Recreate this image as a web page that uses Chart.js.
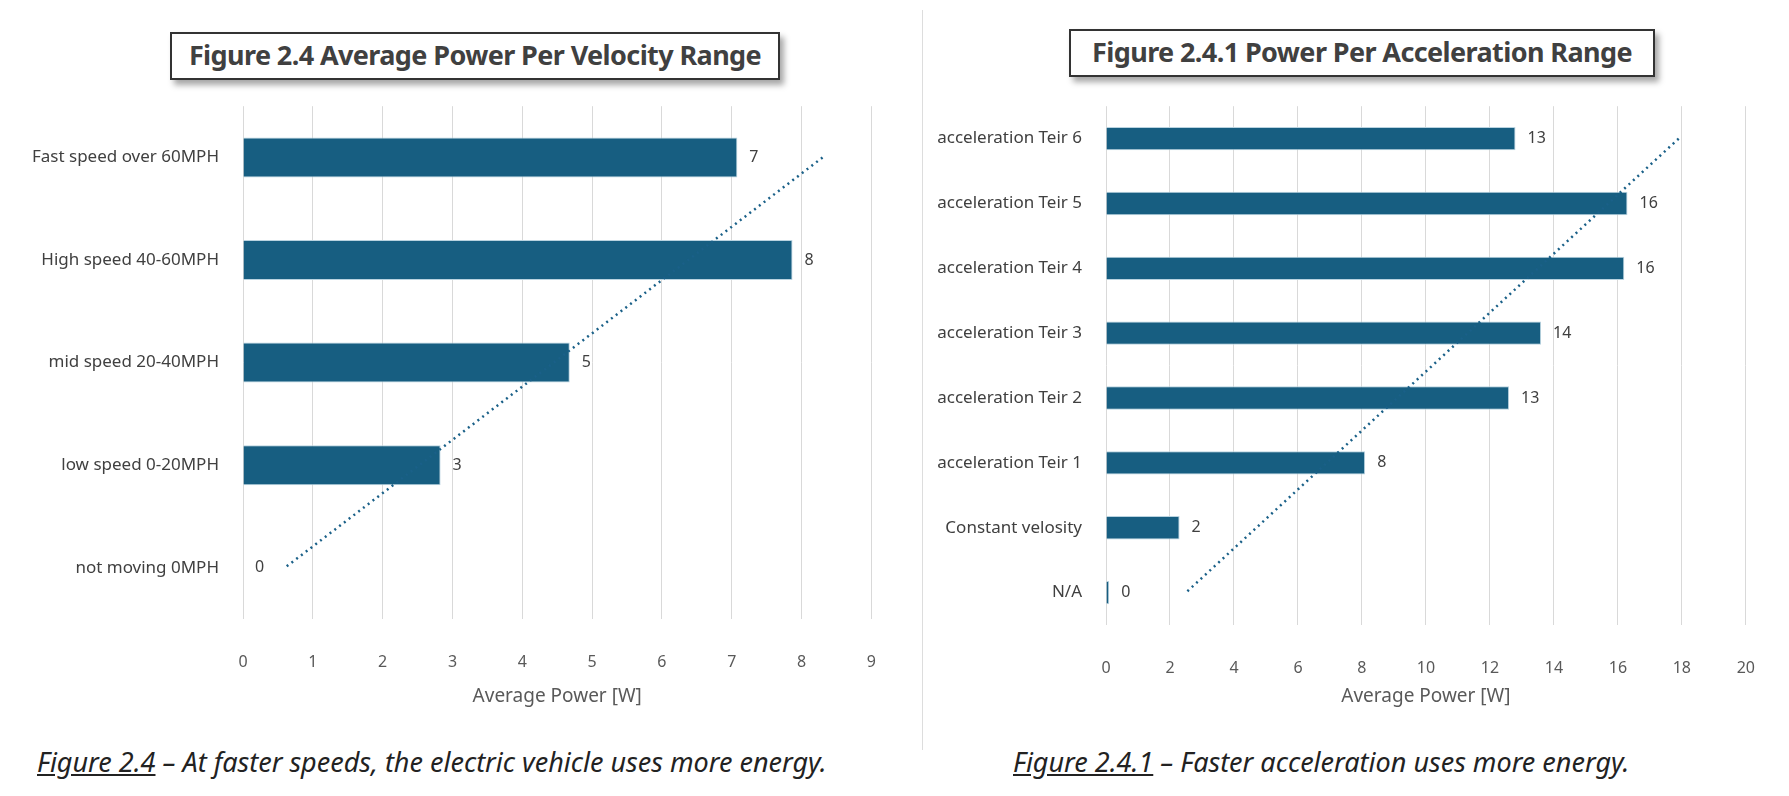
<!DOCTYPE html>
<html><head><meta charset="utf-8">
<script src="https://cdn.jsdelivr.net/npm/chart.js@4"></script>
<style>
body{margin:0;width:1789px;height:796px;background:#fff;position:relative;overflow:hidden;font-family:"Noto Sans",sans-serif}
.title{position:absolute;border:2px solid #333;background:#fff;box-shadow:4px 5px 6px rgba(0,0,0,.35);font-weight:bold;color:#404040;font-size:27px;text-align:center;line-height:42px;letter-spacing:-0.6px;white-space:nowrap}
.cap{position:absolute;font-style:italic;font-size:27px;color:#222;white-space:nowrap}
.cap u{text-decoration:underline}
canvas{position:absolute}
</style></head><body>
<div style="position:absolute;left:922px;top:10px;width:1px;height:740px;background:#ddd"></div>
<div class="title" style="left:170px;top:32px;width:606px;height:44px">Figure 2.4 Average Power Per Velocity Range</div>
<div class="title" style="left:1069px;top:29px;width:582px;height:44px">Figure 2.4.1 Power Per Acceleration Range</div>
<div style="position:absolute;left:0;top:80px;width:910px;height:630px"><canvas id="c1"></canvas></div>
<div style="position:absolute;left:930px;top:80px;width:859px;height:630px"><canvas id="c2"></canvas></div>
<div class="cap" style="left:37px;top:743px"><u>Figure 2.4</u> – At faster speeds, the electric vehicle uses more energy.</div>
<div class="cap" style="left:1013px;top:743px"><u>Figure 2.4.1</u> – Faster acceleration uses more energy.</div>
<script>
const velCats=["Fast speed over 60MPH","High speed 40-60MPH","mid speed 20-40MPH","low speed 0-20MPH","not moving 0MPH"];
const velPower=[7.08,7.87,4.68,2.83,0];
const velTrend=[8.3,null,null,null,0.6];
const accCats=["acceleration Teir 6","acceleration Teir 5","acceleration Teir 4","acceleration Teir 3","acceleration Teir 2","acceleration Teir 1","Constant velosity","N/A"];
const accPower=[12.8,16.3,16.2,13.6,12.6,8.1,2.3,0.1];
const accTrend=[17.9,null,null,null,null,null,null,2.5];

const labelPlugin={id:'vals',afterDatasetsDraw(ch){const ctx=ch.ctx;const m=ch.getDatasetMeta(0);ctx.save();ctx.font='16px "Noto Sans"';ctx.fillStyle='#404040';ctx.textBaseline='middle';
 m.data.forEach((b,i)=>{ctx.fillText(String(Math.round(ch.data.datasets[0].data[i])),b.x+12,b.y);});ctx.restore();}};
function make(id,cats,vals,trend,max,yw,barPct,padR,xh){
 new Chart(document.getElementById(id),{type:'bar',plugins:[labelPlugin],
 data:{labels:cats,datasets:[
  {type:'bar',data:vals,backgroundColor:'#175e81',borderColor:'#b9d3e0',borderWidth:1,barPercentage:barPct,categoryPercentage:1,order:2},
  {type:'line',data:trend,spanGaps:true,borderColor:'#1a6088',borderWidth:2.5,borderDash:[2,4],pointRadius:0,order:1}]},
 options:{indexAxis:'y',responsive:true,maintainAspectRatio:false,animation:false,
  layout:{padding:{top:0,right:padR,bottom:0,left:0}},
  plugins:{legend:{display:false},tooltip:{enabled:false}},
  scales:{
   x:{min:0,max:max,ticks:{stepSize:max>10?2:1,color:'#595959',font:{size:16,family:'Noto Sans'},padding:34},
      grid:{color:'#d9d9d9',drawTicks:false},border:{display:false},
      title:{display:true,text:'Average Power [W]',color:'#595959',font:{size:19,family:'Noto Sans'},padding:{top:2,bottom:2}},
      afterFit(s){s.height=xh;}},
   y:{grid:{display:false},border:{display:false},ticks:{color:'#404040',font:{size:17,family:'Noto Sans'},padding:16},afterFit(s){s.width=yw;}}
  }}});
}
make('c1',velCats,velPower,velTrend,9,243,0.39,4,91);
make('c2',accCats,accPower,accTrend,20,176,0.36,12,85);
</script></body></html>
